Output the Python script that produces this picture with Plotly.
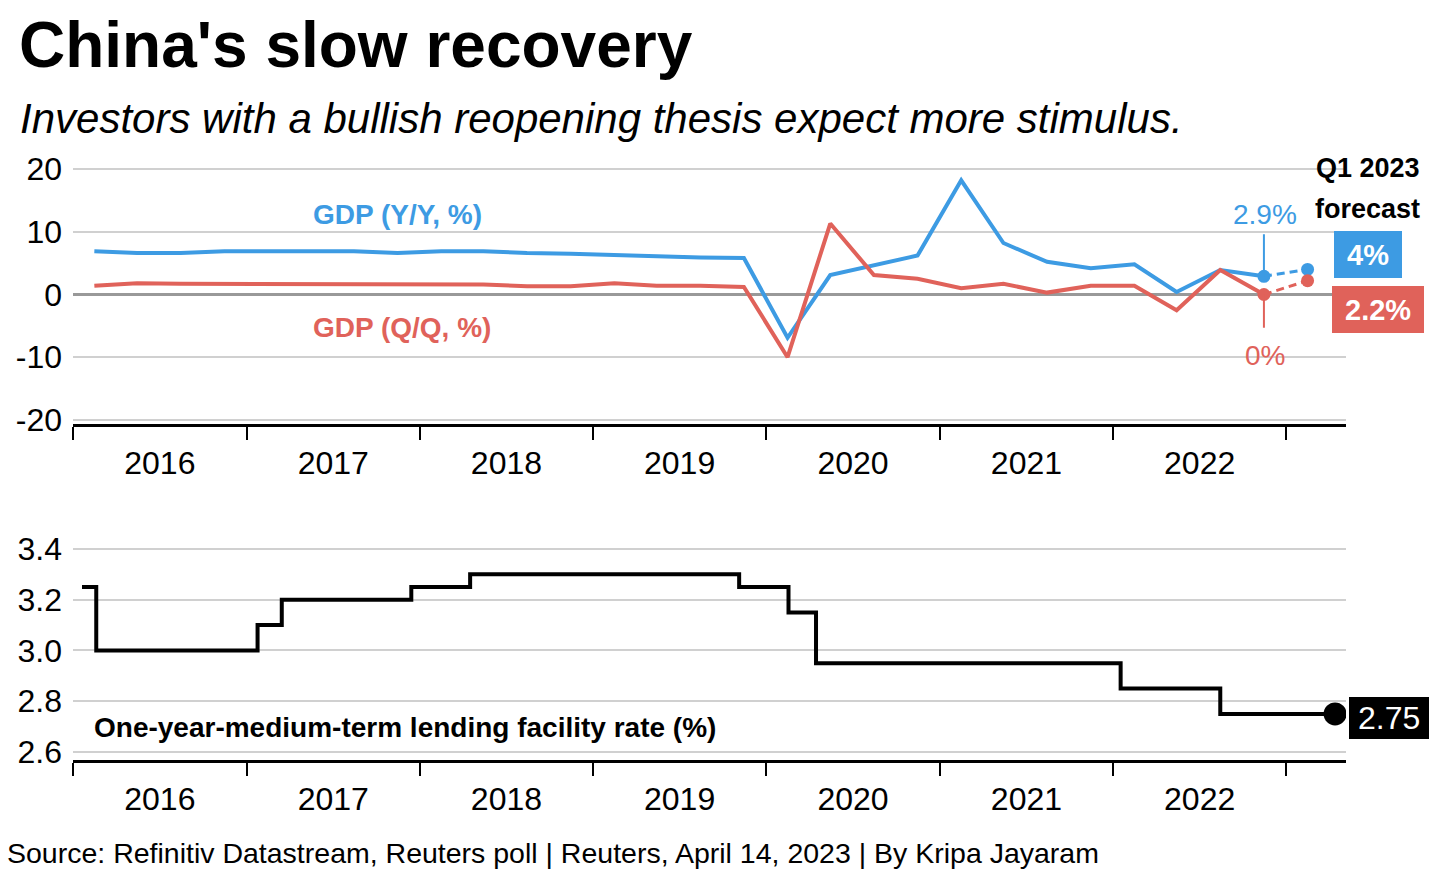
import plotly.graph_objects as go

# ---------------- data ----------------
quarters = [
    "2016-02-15", "2016-05-15", "2016-08-15", "2016-11-15",
    "2017-02-15", "2017-05-15", "2017-08-15", "2017-11-15",
    "2018-02-15", "2018-05-15", "2018-08-15", "2018-11-15",
    "2019-02-15", "2019-05-15", "2019-08-15", "2019-11-15",
    "2020-02-15", "2020-05-15", "2020-08-15", "2020-11-15",
    "2021-02-15", "2021-05-15", "2021-08-15", "2021-11-15",
    "2022-02-15", "2022-05-15", "2022-08-15", "2022-11-15",
]
gdp_yy = [6.9, 6.6, 6.6, 6.9, 6.9, 6.9, 6.9, 6.6,
          6.9, 6.9, 6.6, 6.5, 6.3, 6.0, 5.9, 5.8,
          -6.9, 3.1, 4.7, 6.2, 18.2, 8.2, 5.2, 4.2,
          4.8, 0.4, 3.9, 2.9]
gdp_qq = [1.4, 1.8, 1.7, 1.7, 1.7, 1.7, 1.7, 1.7,
          1.7, 1.6, 1.3, 1.3, 1.8, 1.4, 1.4, 1.2,
          -10.0, 11.3, 3.1, 2.5, 1.0, 1.7, 0.3, 1.4,
          1.4, -2.5, 3.9, 0.0]
forecast_quarter = "2023-02-15"
forecast_yy = 4.0
forecast_qq = 2.2

mlf_dates = ["2016-01-20", "2016-02-19", "2017-01-24", "2017-03-16",
             "2017-12-14", "2018-04-17", "2019-11-05", "2020-02-17",
             "2020-04-15", "2022-01-17", "2022-08-15", "2023-04-14"]
mlf_rate = [3.25, 3.00, 3.10, 3.20, 3.25, 3.30, 3.25, 3.15,
            2.95, 2.85, 2.75, 2.75]

gdp_ticks = [-20, -10, 0, 10, 20]
gdp_tick_text = ["-20", "-10", "0", "10", "20"]
mlf_ticks = [2.6, 2.8, 3.0, 3.2, 3.4]
mlf_tick_text = ["2.6", "2.8", "3.0", "3.2", "3.4"]

year_ticks_start = "2016-01-01"
x_range = ["2016-01-01", "2023-05-07"]

# ---------------- style ----------------
W, H = 1438, 870
BLUE = "#3d9be3"
RED = "#e0625a"
FONT = "Liberation Sans, Arial, Helvetica, sans-serif"


def px(x):
    return x / W


def py(y):
    return 1 - y / H


fig = go.Figure()

# GDP lines
fig.add_trace(go.Scatter(x=quarters, y=gdp_yy, mode="lines",
                         line=dict(color=BLUE, width=4), xaxis="x", yaxis="y",
                         hoverinfo="skip"))
fig.add_trace(go.Scatter(x=quarters, y=gdp_qq, mode="lines",
                         line=dict(color=RED, width=4), xaxis="x", yaxis="y",
                         hoverinfo="skip"))
fig.add_trace(go.Scatter(x=[quarters[-1], forecast_quarter], y=[gdp_yy[-1], forecast_yy],
                         mode="lines+markers",
                         line=dict(color=BLUE, width=3, dash="8px,5px"),
                         marker=dict(color=BLUE, size=13), xaxis="x", yaxis="y",
                         hoverinfo="skip"))
fig.add_trace(go.Scatter(x=[quarters[-1], forecast_quarter], y=[gdp_qq[-1], forecast_qq],
                         mode="lines+markers",
                         line=dict(color=RED, width=3, dash="8px,5px"),
                         marker=dict(color=RED, size=13), xaxis="x", yaxis="y",
                         hoverinfo="skip"))

# MLF step line
fig.add_trace(go.Scatter(x=mlf_dates, y=mlf_rate, mode="lines",
                         line=dict(color="black", width=4, shape="hv"),
                         xaxis="x2", yaxis="y2", hoverinfo="skip"))
fig.add_trace(go.Scatter(x=[mlf_dates[-1]], y=[mlf_rate[-1]], mode="markers",
                         marker=dict(color="black", size=23),
                         xaxis="x2", yaxis="y2", hoverinfo="skip"))

xaxis_common = dict(
    type="date", range=x_range, showgrid=False, zeroline=False,
    showline=True, linecolor="black", linewidth=3,
    ticks="outside", ticklen=13, tickwidth=2, tickcolor="black",
    tick0=year_ticks_start, dtick="M12", ticklabelmode="period",
    tickformat="%Y", tickfont=dict(family=FONT, size=32, color="black"),
    ticklabelstandoff=-4, fixedrange=True, automargin=False,
)

yaxis_common = dict(
    showgrid=True, gridcolor="#d0d0d0", gridwidth=2, showline=False,
    ticks="", ticklabelstandoff=10, automargin=False, fixedrange=True,
    tickfont=dict(family=FONT, size=32, color="black"),
)

fig.update_layout(
    template="none",
    width=W, height=H, autosize=False,
    margin=dict(l=0, r=0, t=0, b=0, pad=0),
    paper_bgcolor="white", plot_bgcolor="white",
    showlegend=False,
    font=dict(family=FONT, color="black"),
    xaxis=dict(domain=[px(73), px(1346)], anchor="y", **xaxis_common),
    yaxis=dict(domain=[py(424), py(160)], anchor="x",
               range=[-20.64, 21.43], tickvals=gdp_ticks, ticktext=gdp_tick_text,
               zeroline=True, zerolinecolor="#999999", zerolinewidth=3,
               **yaxis_common),
    xaxis2=dict(domain=[px(73), px(1346)], anchor="y2", **xaxis_common),
    yaxis2=dict(domain=[py(760), py(535)], anchor="x2",
                range=[2.5685, 3.455], tickvals=mlf_ticks, ticktext=mlf_tick_text,
                zeroline=False, **yaxis_common),
)

shapes = []
# leader lines for last actual values
shapes.append(dict(type="line", xref="x", yref="y", x0=quarters[-1], x1=quarters[-1],
                   y0=gdp_yy[-1], y1=9.6, line=dict(color=BLUE, width=2)))
shapes.append(dict(type="line", xref="x", yref="y", x0=quarters[-1], x1=quarters[-1],
                   y0=gdp_qq[-1], y1=-5.3, line=dict(color=RED, width=2)))
# value boxes
shapes.append(dict(type="rect", xref="paper", yref="paper",
                   x0=px(1334), x1=px(1402), y0=py(278), y1=py(231),
                   fillcolor=BLUE, line=dict(width=0), layer="above"))
shapes.append(dict(type="rect", xref="paper", yref="paper",
                   x0=px(1332), x1=px(1424), y0=py(333), y1=py(286),
                   fillcolor=RED, line=dict(width=0), layer="above"))
shapes.append(dict(type="rect", xref="paper", yref="paper",
                   x0=px(1349), x1=px(1429), y0=py(739), y1=py(697),
                   fillcolor="black", line=dict(width=0), layer="above"))
fig.update_layout(shapes=shapes)

ann = []


def add_text(text, x, y, size, color="black", bold=False, italic=False,
             xanchor="left", yanchor="middle"):
    t = text
    if bold:
        t = "<b>" + t + "</b>"
    if italic:
        t = "<i>" + t + "</i>"
    ann.append(dict(text=t, x=px(x), y=py(y), xref="paper", yref="paper",
                    xanchor=xanchor, yanchor=yanchor, showarrow=False,
                    font=dict(family=FONT, size=size, color=color)))


add_text("China's slow recovery", 17, 45, 64, bold=True)
add_text("Investors with a bullish reopening thesis expect more stimulus.", 18, 118, 42, italic=True)
add_text("GDP (Y/Y, %)", 311, 214, 28, color=BLUE, bold=True)
add_text("GDP (Q/Q, %)", 311, 328, 28, color=RED, bold=True)
add_text("2.9%", 1265, 214, 28, color=BLUE, xanchor="center")
add_text("0%", 1265, 355, 28, color=RED, xanchor="center")
add_text("Q1 2023", 1422, 168, 27, bold=True, xanchor="right")
add_text("forecast", 1422, 209, 27, bold=True, xanchor="right")
add_text("4%", 1368, 255, 29, color="white", bold=True, xanchor="center")
add_text("2.2%", 1378, 310, 29, color="white", bold=True, xanchor="center")
add_text("2.75", 1389, 718, 32, color="white", xanchor="center")
add_text("One-year-medium-term lending facility rate (%)", 92, 727, 28, bold=True)
add_text("Source: Refinitiv Datastream, Reuters poll | Reuters, April 14, 2023 | By Kripa Jayaram",
         5, 853, 28.5)
fig.update_layout(annotations=ann)

fig.write_html("out.html", config={"displayModeBar": False},
               post_script="document.body.style.margin='0';")
